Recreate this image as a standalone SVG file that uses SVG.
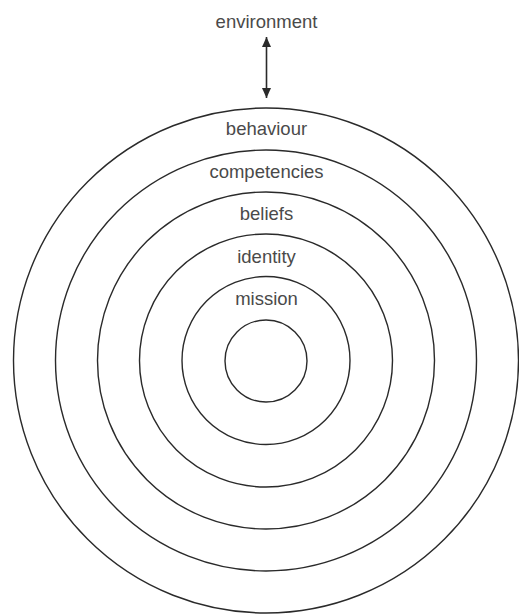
<svg xmlns="http://www.w3.org/2000/svg" width="519" height="614" viewBox="0 0 519 614">
<style>
.ring{fill:none;stroke:#2a2a2a;stroke-width:1.4}
.lbl{font-family:"Liberation Sans",Arial,sans-serif;font-size:18.5px;fill:#4a4a4a;text-anchor:middle}
.conn{stroke:#2a2a2a;stroke-width:1.6;fill:none}
</style>
<defs>
<marker id="ah" viewBox="0 0 10 10" refX="10" refY="5" markerWidth="10" markerHeight="10" markerUnits="userSpaceOnUse" orient="auto-start-reverse">
<path d="M0,0.5 L10,5 L0,9.5 Z" fill="#2a2a2a"/>
</marker>
</defs>
<rect width="519" height="614" fill="#ffffff"/>
<g id="environment"><text class="lbl" x="266.5" y="28">environment</text></g>
<g id="connectors">
<line class="conn" x1="266.5" y1="37" x2="266.5" y2="98" marker-start="url(#ah)" marker-end="url(#ah)"/>
</g>
<g id="behaviour"><circle class="ring" cx="266" cy="360.5" r="252.5"/><text class="lbl" x="266.5" y="135">behaviour</text></g>
<g id="competencies"><circle class="ring" cx="266" cy="360.5" r="210.5"/><text class="lbl" x="266.5" y="178">competencies</text></g>
<g id="beliefs"><circle class="ring" cx="266" cy="360.5" r="168.5"/><text class="lbl" x="266.5" y="220">beliefs</text></g>
<g id="identity"><circle class="ring" cx="266" cy="360.5" r="126.5"/><text class="lbl" x="266.5" y="263">identity</text></g>
<g id="mission"><circle class="ring" cx="266" cy="360.5" r="84"/><text class="lbl" x="266.5" y="305">mission</text></g>
<g id="core"><circle class="ring" cx="266" cy="361" r="41"/></g>
</svg>
